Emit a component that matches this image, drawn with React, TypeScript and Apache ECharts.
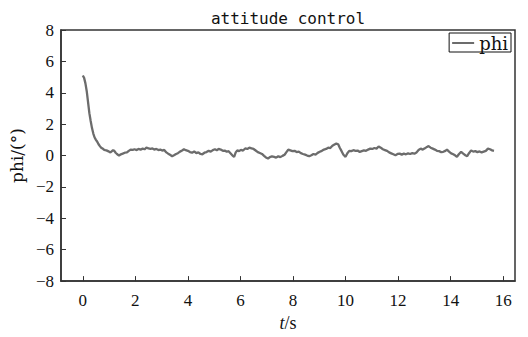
import React, { useEffect, useRef } from "react";
import * as echarts from "echarts";

const titleText = "attitude control";
const seriesName = "phi";
const xTicks = [0, 2, 4, 6, 8, 10, 12, 14, 16];
const yTicks = [-8, -6, -4, -2, 0, 2, 4, 6, 8];

const tValues = [
  0, 0.05, 0.1, 0.15, 0.2, 0.25, 0.3, 0.35, 0.4, 0.45, 0.5, 0.55, 0.6, 0.65, 0.7, 0.75, 0.8, 0.85, 0.9, 1.0,
  1.05, 1.1, 1.15, 1.2, 1.25, 1.3, 1.38, 1.45, 1.52, 1.6, 1.68, 1.75, 1.82, 1.9, 1.97, 2.05, 2.12, 2.2, 2.28, 2.35,
  2.42, 2.5, 2.58, 2.65, 2.72, 2.8, 2.88, 2.95, 3.02, 3.1, 3.18, 3.25, 3.32, 3.4, 3.47, 3.55, 3.62, 3.7, 3.78, 3.85,
  3.92, 4.0, 4.08, 4.16, 4.24, 4.32, 4.4, 4.48, 4.55, 4.63, 4.71, 4.79, 4.87, 4.95, 5.03, 5.1, 5.17, 5.25, 5.33, 5.4,
  5.48, 5.55, 5.62, 5.7, 5.76, 5.82, 5.88, 5.95, 6.02, 6.1, 6.18, 6.26, 6.34, 6.42, 6.5, 6.58, 6.66, 6.74, 6.82, 6.9,
  6.97, 7.05, 7.12, 7.2, 7.28, 7.36, 7.44, 7.52, 7.6, 7.68, 7.75, 7.82, 7.9, 7.98, 8.06, 8.14, 8.22, 8.3, 8.38, 8.46,
  8.54, 8.62, 8.7, 8.78, 8.86, 8.94, 9.02, 9.1, 9.18, 9.26, 9.34, 9.42, 9.5, 9.58, 9.65, 9.72, 9.78, 9.85, 9.92, 10.0,
  10.07, 10.14, 10.22, 10.3, 10.38, 10.46, 10.54, 10.62, 10.7, 10.78, 10.86, 10.94, 11.02, 11.1, 11.18, 11.26, 11.34, 11.42, 11.5, 11.58,
  11.66, 11.74, 11.82, 11.9, 11.98, 12.06, 12.14, 12.22, 12.3, 12.38, 12.46, 12.54, 12.62, 12.7, 12.78, 12.86, 12.94, 13.02, 13.1, 13.16,
  13.24, 13.32, 13.4, 13.48, 13.56, 13.64, 13.72, 13.8, 13.86, 13.94, 14.02, 14.1, 14.18, 14.24, 14.32, 14.4, 14.48, 14.56, 14.63, 14.7,
  14.78, 14.86, 14.94, 15.02, 15.1, 15.18, 15.26, 15.34, 15.42, 15.5, 15.58, 15.65,
];

const phiValues = [
  5.1, 4.95, 4.6, 4.1, 3.4, 2.7, 2.2, 1.75, 1.4, 1.15, 1.0, 0.88, 0.72, 0.6, 0.5, 0.45, 0.38, 0.35, 0.33, 0.25,
  0.2, 0.27, 0.34, 0.3, 0.18, 0.1, 0.0, 0.08, 0.12, 0.18, 0.2, 0.3, 0.38, 0.36, 0.4, 0.35, 0.42, 0.38, 0.44, 0.4,
  0.5, 0.46, 0.42, 0.45, 0.38, 0.42, 0.35, 0.38, 0.32, 0.36, 0.2, 0.12, 0.05, -0.04, 0.02, 0.1, 0.15, 0.25, 0.32, 0.4,
  0.34, 0.3, 0.22, 0.18, 0.26, 0.15, 0.2, 0.1, 0.08, 0.18, 0.22, 0.3, 0.25, 0.35, 0.4, 0.34, 0.42, 0.38, 0.3, 0.32,
  0.24, 0.28, 0.15, 0.0, -0.08, 0.2, 0.33, 0.28, 0.36, 0.32, 0.45, 0.42, 0.5, 0.46, 0.42, 0.32, 0.22, 0.16, 0.1, -0.02,
  -0.12, -0.19, -0.1, -0.05, -0.08, -0.13, -0.04, -0.1, -0.02, 0.05, 0.22, 0.38, 0.33, 0.28, 0.3, 0.22, 0.25, 0.15, 0.1, 0.06,
  0.0, -0.04, 0.02, 0.1, 0.06, 0.17, 0.24, 0.3, 0.38, 0.42, 0.5, 0.48, 0.62, 0.7, 0.76, 0.72, 0.5, 0.28, 0.05, -0.08,
  0.15, 0.3, 0.28, 0.34, 0.3, 0.32, 0.23, 0.28, 0.33, 0.3, 0.38, 0.44, 0.42, 0.48, 0.44, 0.58, 0.5, 0.4, 0.35, 0.3,
  0.2, 0.14, 0.08, 0.02, 0.1, 0.12, 0.06, 0.12, 0.08, 0.14, 0.1, 0.15, 0.12, 0.2, 0.35, 0.44, 0.38, 0.46, 0.55, 0.6,
  0.5, 0.44, 0.38, 0.3, 0.28, 0.22, 0.24, 0.3, 0.38, 0.25, 0.14, 0.08, 0.0, -0.08, 0.1, 0.23, 0.12, 0.02, -0.04, 0.15,
  0.33, 0.25, 0.28, 0.22, 0.26, 0.2, 0.25, 0.3, 0.44, 0.4, 0.33, 0.3,
];

export default function App() {
  const ref = useRef<HTMLDivElement>(null);
  useEffect(() => {
    if (!ref.current) return;
    const chart = echarts.init(ref.current, undefined, { renderer: "svg" });
    const data = tValues.map((t, i) => [t, phiValues[i]]);
    const serif = "'Liberation Serif', 'DejaVu Serif', serif";
    const wideSerif = "'DejaVu Serif', serif";
    chart.setOption({
      animation: false,
      backgroundColor: "#fff",
      title: {
        text: titleText,
        left: 283,
        textAlign: "center",
        top: 5,
        textStyle: { fontFamily: "'DejaVu Sans Mono', monospace", fontSize: 16, fontWeight: "normal", color: "#111" },
      },
      legend: {
        right: 17,
        top: 33,
        padding: [1, 3, 0, 3],
        borderColor: "#111",
        borderWidth: 1,
        backgroundColor: "#fff",
        itemWidth: 22,
        itemHeight: 2,
        itemGap: 2,
        textStyle: { fontFamily: wideSerif, fontSize: 18, color: "#111", padding: [0, 0, 0, 0] },
        data: [{ name: seriesName, icon: "rect" }],
      },
      grid: {
        left: 58,
        right: 13,
        top: 30,
        bottom: 53,
        show: true,
        borderColor: "#333",
        borderWidth: 1.5,
        backgroundColor: "#fff",
      },
      xAxis: {
        type: "value",
        min: -0.83,
        max: 16.45,
        name: "{i|t}/s",
        nameLocation: "middle",
        nameGap: 29,
        nameTextStyle: {
          fontFamily: serif,
          fontSize: 18,
          color: "#111",
          rich: { i: { fontStyle: "italic", fontFamily: serif, fontSize: 18, color: "#111" } },
        },
        axisLine: { show: true, onZero: false, lineStyle: { color: "#333", width: 1.5 } },
        axisTick: { show: true, inside: true, length: 5, customValues: xTicks, lineStyle: { color: "#333" } },
        axisLabel: { customValues: xTicks, margin: 11, fontFamily: serif, fontSize: 17, color: "#111" },
        splitLine: { show: false },
      },
      yAxis: {
        type: "value",
        min: -8,
        max: 8,
        interval: 2,
        name: "phi/(°)",
        nameLocation: "middle",
        nameRotate: 90,
        nameGap: 28,
        nameTextStyle: { fontFamily: wideSerif, fontSize: 17, color: "#111" },
        axisLine: { show: true, onZero: false, lineStyle: { color: "#333", width: 1.5 } },
        axisTick: { show: true, inside: true, length: 5, customValues: yTicks, lineStyle: { color: "#333" } },
        axisLabel: {
          margin: 7,
          fontFamily: serif,
          fontSize: 17,
          color: "#111",
          formatter: (v: number) => (v < 0 ? "\u2212" + Math.abs(v) : String(v)),
        },
        splitLine: { show: false },
      },
      series: [
        {
          name: seriesName,
          type: "line",
          data,
          showSymbol: false,
          symbol: "none",
          lineStyle: { color: "#6c6c6c", width: 2.3 },
          itemStyle: { color: "#6c6c6c" },
        },
      ],
    });
    return () => chart.dispose();
  }, []);
  return <div ref={ref} style={{ width: 528, height: 337, position: "fixed", left: 0, top: 0 }} />;
}
